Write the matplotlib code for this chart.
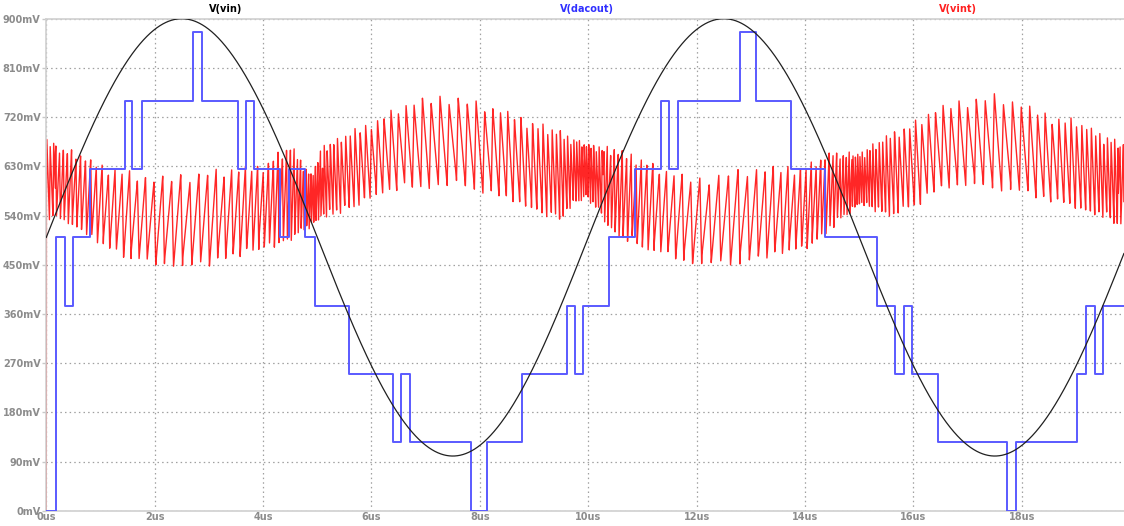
import numpy as np
import matplotlib.pyplot as plt

# V(vin): sine source (900mV peak at 2.5us, 100mV valley at 7.5us)
vin_offset = 500.0   # mV
vin_amp = 400.0      # mV
vin_period = 10.0    # us

# V(dacout): 3-bit DAC staircase -> step start time (us) and level (mV)
dac_t = [0.0, 0.18, 0.34, 0.50, 0.81, 1.45, 1.59, 1.76, 2.71, 2.88, 3.53, 3.68, 3.84,
         4.31, 4.48, 4.77, 4.96, 5.59, 6.40, 6.54, 6.71, 7.83, 8.14, 8.78, 9.60, 9.75,
         9.91, 10.39, 10.86, 11.35, 11.49, 11.66, 12.79, 13.10, 13.74, 14.37, 15.33,
         15.66, 15.82, 15.97, 16.46, 17.73, 17.89, 19.01, 19.18, 19.34, 19.49]
dac_mv = [0, 500, 375, 500, 625, 750, 625, 750, 875, 750, 625, 750, 625,
          500, 625, 500, 375, 250, 125, 250, 125, 0, 125, 250, 375, 250,
          375, 500, 625, 750, 625, 750, 875, 750, 625, 500, 375,
          250, 375, 250, 125, 0, 125, 250, 375, 250, 375]

# V(vint): integrator ripple, lower / upper envelope (mV) and ripple period (us)
vint_t = [0.0, 0.5, 1.0, 1.5, 2.0, 2.5, 3.0, 3.5, 4.0, 4.5, 4.9, 5.1, 5.5, 6.0, 6.5, 7.0,
          7.5, 8.0, 8.5, 9.0, 9.5, 9.95, 10.5, 11.0, 11.5, 12.0, 12.5, 13.0, 13.5, 14.0,
          14.5, 15.0, 15.5, 16.0, 16.5, 17.0, 17.5, 18.0, 18.5, 19.0, 19.5, 19.9]
vint_lo = [530, 520, 482, 459, 449, 440, 446, 463, 476, 489, 519, 531, 544, 568, 586, 586,
           592, 581, 568, 544, 531, 574, 500, 476, 464, 446, 446, 453, 464, 476,
           513, 556, 537, 549, 586, 592, 586, 581, 562, 549, 531, 513]
vint_hi = [680, 660, 636, 623, 610, 619, 626, 628, 636, 672, 617, 670, 690, 714, 742, 757,
           764, 748, 733, 714, 696, 674, 666, 647, 623, 610, 623, 628, 632, 632,
           660, 654, 690, 714, 742, 757, 764, 748, 727, 718, 690, 678]
vint_tooth = [0.06, 0.08, 0.11, 0.14, 0.16, 0.17, 0.16, 0.13, 0.10, 0.07, 0.04, 0.05, 0.08,
              0.11, 0.14, 0.16, 0.17, 0.16, 0.13, 0.10, 0.07, 0.04, 0.07, 0.10, 0.14, 0.17,
              0.18, 0.17, 0.14, 0.10, 0.07, 0.04, 0.07, 0.11, 0.14, 0.16, 0.17, 0.16, 0.13,
              0.10, 0.07, 0.06]
tooth_depth = [1.0, 0.86, 0.97, 0.78, 0.93, 0.88, 1.0, 0.82, 0.95, 0.9]

t_end = 19.884
y_ticks = np.arange(0, 901, 90)
x_ticks = np.arange(0, 19, 2)

grey = '#8c8c8c'
fig = plt.figure(figsize=(11.24, 5.26), dpi=100)
ax = fig.add_axes([46.3 / 1124, 15.3 / 526, 1 - 46.3 / 1124, 492.0 / 526])

# vin
t = np.arange(0, t_end, 0.002)
vin = vin_offset + vin_amp * np.sin(2 * np.pi * t / vin_period)

# vint ripple built from the read envelopes
lo = np.interp(t, vint_t, vint_lo)
hi = np.interp(t, vint_t, vint_hi)
per = np.interp(t, vint_t, vint_tooth)
phase = np.cumsum(0.002 / per)
k = np.floor(phase).astype(int)
f = phase - k
mid = (lo + hi) / 2
rise = np.where(mid < 600, 0.8, 0.2)
shape = np.where(f < rise, f / rise, (1 - f) / (1 - rise))
depth = np.array(tooth_depth)[k % len(tooth_depth)]
vint = mid + (hi - lo) / 2 * depth * (2 * shape - 1)
vint_tt = np.concatenate([[0.0], t])
vint = np.concatenate([[0.0], vint])

ax.plot(vint_tt, vint, color='#ff0000', lw=1.0, alpha=0.85, zorder=2)
ax.step(dac_t + [t_end], dac_mv + [dac_mv[-1]], where='post', color='#5a5aff', lw=1.4, zorder=3)
ax.plot(t, vin, color='#202020', lw=0.9, zorder=4)

ax.set_xlim(0, t_end)
ax.set_ylim(0, 900)
ax.set_xticks(x_ticks)
ax.set_xticklabels(['%dus' % v for v in x_ticks])
ax.set_yticks(y_ticks)
ax.set_yticklabels(['%dmV' % v for v in y_ticks])
ax.grid(True, color='#a0a0a0', ls=(0, (1.2, 2.5)), lw=0.9)
ax.tick_params(colors='#c8c8c8', labelcolor=grey, width=1, labelsize=7)
ax.tick_params(axis='y', length=3, pad=1)
ax.tick_params(axis='x', length=0, pad=1)
for lab in ax.get_xticklabels() + ax.get_yticklabels():
    lab.set_fontweight('bold')
for s in ['left', 'bottom', 'top']:
    ax.spines[s].set_color('#d0d0d0')
    ax.spines[s].set_linewidth(1.2)
ax.spines['right'].set_visible(False)

fig.text(226 / 1124, 1 - 9 / 526, 'V(vin)', color='black', fontsize=7, fontweight='bold', ha='center', va='center')
fig.text(587 / 1124, 1 - 9 / 526, 'V(dacout)', color='#3030ff', fontsize=7, fontweight='bold', ha='center', va='center')
fig.text(958 / 1124, 1 - 9 / 526, 'V(vint)', color='#ff2020', fontsize=7, fontweight='bold', ha='center', va='center')

fig.savefig('out.png', dpi=100)
